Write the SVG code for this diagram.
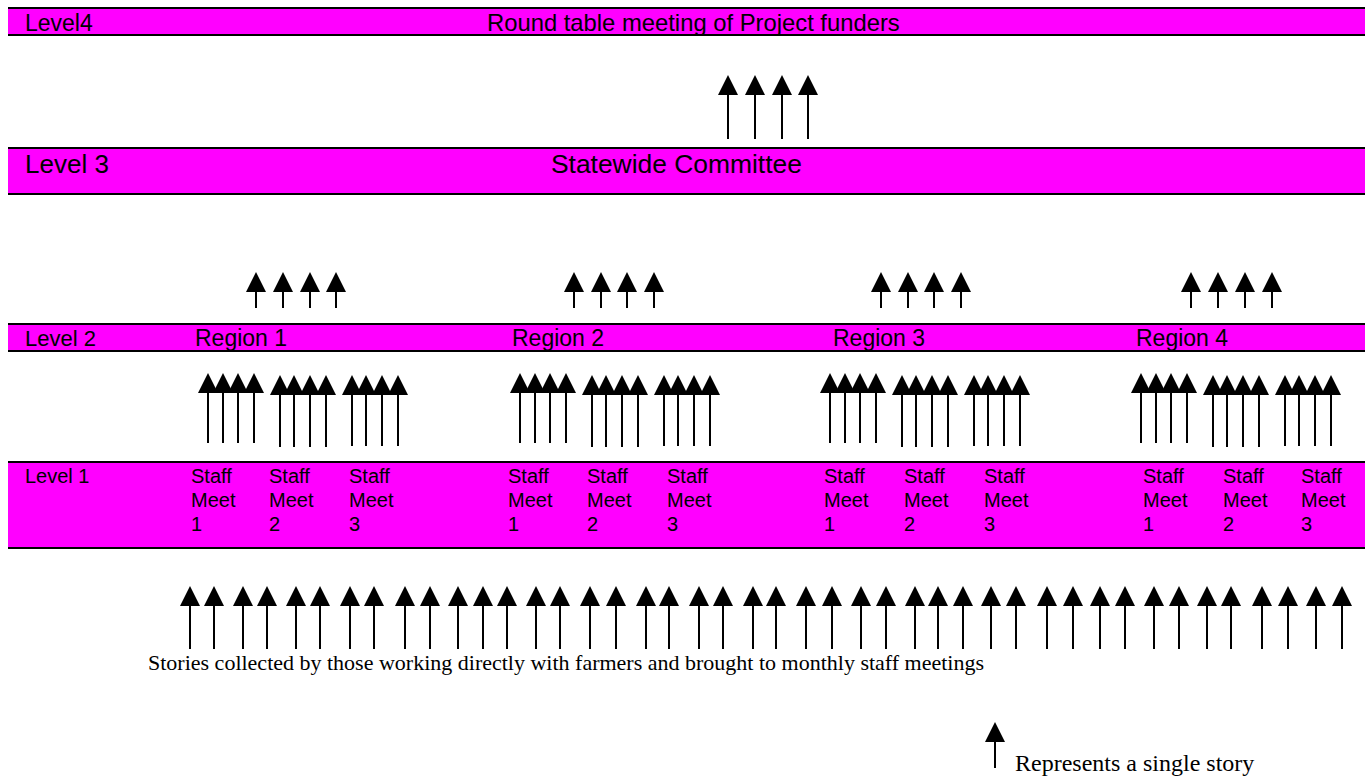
<svg xmlns="http://www.w3.org/2000/svg" width="1372" height="778" viewBox="0 0 1372 778">
<style>
.bar{fill:#FF00FF;stroke:none}
.edge{stroke:#000;stroke-width:2.2}
.t{font-family:"Liberation Sans",Arial,sans-serif;fill:#000}
.s{font-family:"Liberation Serif","Times New Roman",serif;fill:#000}
.arr line{stroke:#000;stroke-width:2;marker-end:url(#head)}
</style>
<defs>
<marker id="head" markerUnits="userSpaceOnUse" markerWidth="20" markerHeight="20" viewBox="0 0 20 20" refX="0" refY="10" orient="auto">
<path d="M0,0 L20,10 L0,20 z" fill="#000"/>
</marker>
</defs>
<rect width="1372" height="778" fill="#fff"/>

<g id="level4">
<rect class="bar" x="8" y="8" width="1357" height="27"/>
<line class="edge" x1="8" y1="8" x2="1365" y2="8"/>
<line class="edge" x1="8" y1="35" x2="1365" y2="35"/>
<text class="t" x="25" y="31" font-size="23">Level4</text>
<text class="t" x="487" y="31" font-size="23.8">Round table meeting of Project funders</text>
</g>

<g id="level3">
<rect class="bar" x="8" y="148" width="1357" height="46"/>
<line class="edge" x1="8" y1="148" x2="1365" y2="148"/>
<line class="edge" x1="8" y1="194" x2="1365" y2="194"/>
<text class="t" x="25" y="173" font-size="26">Level 3</text>
<text class="t" x="551" y="173" font-size="26.4">Statewide Committee</text>
</g>

<g id="level2">
<rect class="bar" x="8" y="324" width="1357" height="27"/>
<line class="edge" x1="8" y1="324" x2="1365" y2="324"/>
<line class="edge" x1="8" y1="351" x2="1365" y2="351"/>
<text class="t" x="25" y="346" font-size="22">Level 2</text>
<text class="t" x="195" y="346" font-size="23">Region 1</text>
<text class="t" x="512" y="346" font-size="23">Region 2</text>
<text class="t" x="833" y="346" font-size="23">Region 3</text>
<text class="t" x="1136" y="346" font-size="23">Region 4</text>
</g>

<g id="level1">
<rect class="bar" x="8" y="462" width="1357" height="86"/>
<line class="edge" x1="8" y1="462" x2="1365" y2="462"/>
<line class="edge" x1="8" y1="548" x2="1365" y2="548"/>
<text class="t" x="25" y="483" font-size="20">Level 1</text>
<g class="t" font-size="20">
<text x="191" y="483">Staff<tspan x="191" y="507">Meet</tspan><tspan x="191" y="531">1</tspan></text>
<text x="269" y="483">Staff<tspan x="269" y="507">Meet</tspan><tspan x="269" y="531">2</tspan></text>
<text x="349" y="483">Staff<tspan x="349" y="507">Meet</tspan><tspan x="349" y="531">3</tspan></text>
<text x="508" y="483">Staff<tspan x="508" y="507">Meet</tspan><tspan x="508" y="531">1</tspan></text>
<text x="587" y="483">Staff<tspan x="587" y="507">Meet</tspan><tspan x="587" y="531">2</tspan></text>
<text x="667" y="483">Staff<tspan x="667" y="507">Meet</tspan><tspan x="667" y="531">3</tspan></text>
<text x="824" y="483">Staff<tspan x="824" y="507">Meet</tspan><tspan x="824" y="531">1</tspan></text>
<text x="904" y="483">Staff<tspan x="904" y="507">Meet</tspan><tspan x="904" y="531">2</tspan></text>
<text x="984" y="483">Staff<tspan x="984" y="507">Meet</tspan><tspan x="984" y="531">3</tspan></text>
<text x="1143" y="483">Staff<tspan x="1143" y="507">Meet</tspan><tspan x="1143" y="531">1</tspan></text>
<text x="1223" y="483">Staff<tspan x="1223" y="507">Meet</tspan><tspan x="1223" y="531">2</tspan></text>
<text x="1301" y="483">Staff<tspan x="1301" y="507">Meet</tspan><tspan x="1301" y="531">3</tspan></text>
</g>
</g>

<g id="connectors" class="arr">
<!-- Level 3 to Level 4 -->
<line x1="728" y1="139" x2="728" y2="95"/>
<line x1="755" y1="139" x2="755" y2="95"/>
<line x1="782" y1="139" x2="782" y2="95"/>
<line x1="808" y1="139" x2="808" y2="95"/>
<!-- Level 2 to Level 3 -->
<line x1="256" y1="308" x2="256" y2="292"/>
<line x1="283" y1="308" x2="283" y2="292"/>
<line x1="310" y1="308" x2="310" y2="292"/>
<line x1="336" y1="308" x2="336" y2="292"/>
<line x1="574" y1="308" x2="574" y2="292"/>
<line x1="601" y1="308" x2="601" y2="292"/>
<line x1="627" y1="308" x2="627" y2="292"/>
<line x1="654" y1="308" x2="654" y2="292"/>
<line x1="881" y1="308" x2="881" y2="292"/>
<line x1="908" y1="308" x2="908" y2="292"/>
<line x1="934" y1="308" x2="934" y2="292"/>
<line x1="961" y1="308" x2="961" y2="292"/>
<line x1="1191" y1="308" x2="1191" y2="292"/>
<line x1="1218" y1="308" x2="1218" y2="292"/>
<line x1="1245" y1="308" x2="1245" y2="292"/>
<line x1="1272" y1="308" x2="1272" y2="292"/>
<!-- Level 1 to Level 2 : region 1 -->
<line x1="208" y1="443" x2="208" y2="393"/>
<line x1="223" y1="443" x2="223" y2="393"/>
<line x1="238" y1="443" x2="238" y2="393"/>
<line x1="254" y1="443" x2="254" y2="393"/>
<line x1="280" y1="447" x2="280" y2="395"/>
<line x1="294" y1="447" x2="294" y2="395"/>
<line x1="310" y1="447" x2="310" y2="395"/>
<line x1="326" y1="447" x2="326" y2="395"/>
<line x1="352" y1="446" x2="352" y2="395"/>
<line x1="366" y1="446" x2="366" y2="395"/>
<line x1="382" y1="446" x2="382" y2="395"/>
<line x1="398" y1="446" x2="398" y2="395"/>
<!-- region 2 -->
<line x1="520" y1="443" x2="520" y2="393"/>
<line x1="535" y1="443" x2="535" y2="393"/>
<line x1="550" y1="443" x2="550" y2="393"/>
<line x1="566" y1="443" x2="566" y2="393"/>
<line x1="592" y1="447" x2="592" y2="395"/>
<line x1="606" y1="447" x2="606" y2="395"/>
<line x1="622" y1="447" x2="622" y2="395"/>
<line x1="638" y1="447" x2="638" y2="395"/>
<line x1="664" y1="446" x2="664" y2="395"/>
<line x1="678" y1="446" x2="678" y2="395"/>
<line x1="694" y1="446" x2="694" y2="395"/>
<line x1="710" y1="446" x2="710" y2="395"/>
<!-- region 3 -->
<line x1="830" y1="443" x2="830" y2="393"/>
<line x1="845" y1="443" x2="845" y2="393"/>
<line x1="860" y1="443" x2="860" y2="393"/>
<line x1="876" y1="443" x2="876" y2="393"/>
<line x1="902" y1="447" x2="902" y2="395"/>
<line x1="916" y1="447" x2="916" y2="395"/>
<line x1="932" y1="447" x2="932" y2="395"/>
<line x1="948" y1="447" x2="948" y2="395"/>
<line x1="974" y1="446" x2="974" y2="395"/>
<line x1="988" y1="446" x2="988" y2="395"/>
<line x1="1004" y1="446" x2="1004" y2="395"/>
<line x1="1020" y1="446" x2="1020" y2="395"/>
<!-- region 4 -->
<line x1="1141" y1="443" x2="1141" y2="393"/>
<line x1="1156" y1="443" x2="1156" y2="393"/>
<line x1="1171" y1="443" x2="1171" y2="393"/>
<line x1="1187" y1="443" x2="1187" y2="393"/>
<line x1="1213" y1="447" x2="1213" y2="395"/>
<line x1="1227" y1="447" x2="1227" y2="395"/>
<line x1="1243" y1="447" x2="1243" y2="395"/>
<line x1="1259" y1="447" x2="1259" y2="395"/>
<line x1="1285" y1="446" x2="1285" y2="395"/>
<line x1="1299" y1="446" x2="1299" y2="395"/>
<line x1="1315" y1="446" x2="1315" y2="395"/>
<line x1="1331" y1="446" x2="1331" y2="395"/>
<!-- stories to Level 1 -->
<line x1="190" y1="649" x2="190" y2="606"/>
<line x1="214" y1="649" x2="214" y2="606"/>
<line x1="243" y1="649" x2="243" y2="606"/>
<line x1="267" y1="649" x2="267" y2="606"/>
<line x1="296" y1="649" x2="296" y2="606"/>
<line x1="320" y1="649" x2="320" y2="606"/>
<line x1="350" y1="649" x2="350" y2="606"/>
<line x1="374" y1="649" x2="374" y2="606"/>
<line x1="405" y1="649" x2="405" y2="606"/>
<line x1="430" y1="649" x2="430" y2="606"/>
<line x1="458" y1="649" x2="458" y2="606"/>
<line x1="483" y1="649" x2="483" y2="606"/>
<line x1="507" y1="649" x2="507" y2="606"/>
<line x1="536" y1="649" x2="536" y2="606"/>
<line x1="560" y1="649" x2="560" y2="606"/>
<line x1="590" y1="649" x2="590" y2="606"/>
<line x1="616" y1="649" x2="616" y2="606"/>
<line x1="646" y1="649" x2="646" y2="606"/>
<line x1="669" y1="649" x2="669" y2="606"/>
<line x1="699" y1="649" x2="699" y2="606"/>
<line x1="723" y1="649" x2="723" y2="606"/>
<line x1="753" y1="649" x2="753" y2="606"/>
<line x1="776" y1="649" x2="776" y2="606"/>
<line x1="806" y1="649" x2="806" y2="606"/>
<line x1="832" y1="649" x2="832" y2="606"/>
<line x1="861" y1="649" x2="861" y2="606"/>
<line x1="886" y1="649" x2="886" y2="606"/>
<line x1="915" y1="649" x2="915" y2="606"/>
<line x1="938" y1="649" x2="938" y2="606"/>
<line x1="963" y1="649" x2="963" y2="606"/>
<line x1="991" y1="649" x2="991" y2="606"/>
<line x1="1016" y1="649" x2="1016" y2="606"/>
<line x1="1047" y1="649" x2="1047" y2="606"/>
<line x1="1073" y1="649" x2="1073" y2="606"/>
<line x1="1100" y1="649" x2="1100" y2="606"/>
<line x1="1125" y1="649" x2="1125" y2="606"/>
<line x1="1154" y1="649" x2="1154" y2="606"/>
<line x1="1179" y1="649" x2="1179" y2="606"/>
<line x1="1207" y1="649" x2="1207" y2="606"/>
<line x1="1231" y1="649" x2="1231" y2="606"/>
<line x1="1262" y1="649" x2="1262" y2="606"/>
<line x1="1288" y1="649" x2="1288" y2="606"/>
<line x1="1316" y1="649" x2="1316" y2="606"/>
<line x1="1342" y1="649" x2="1342" y2="606"/>
</g>

<g id="stories">
<text class="s" x="148" y="670" font-size="22">Stories collected by those working directly with farmers and brought to monthly staff meetings</text>
</g>

<g id="legend" class="arr">
<line x1="995" y1="768" x2="995" y2="742"/>
<text class="s" x="1015" y="771" font-size="24">Represents a single story</text>
</g>
</svg>
